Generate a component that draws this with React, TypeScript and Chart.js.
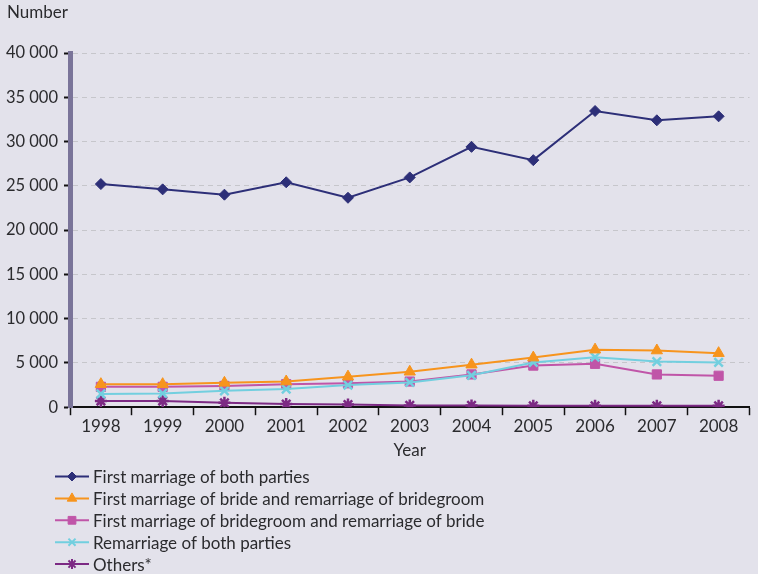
import React, { useEffect, useRef } from 'react';
import { Chart, registerables } from 'chart.js';
import { drawPoint } from 'chart.js/helpers';

Chart.register(...registerables);

const years = ['1998', '1999', '2000', '2001', '2002', '2003', '2004', '2005', '2006', '2007', '2008'];
const firstBoth = [25200, 24600, 24000, 25400, 23650, 25950, 29400, 27900, 33450, 32400, 32850];
const firstBrideRemGroom = [2600, 2600, 2750, 2900, 3450, 4000, 4800, 5600, 6500, 6400, 6100];
const firstGroomRemBride = [2300, 2300, 2400, 2600, 2700, 2900, 3700, 4700, 4900, 3700, 3550];
const remBoth = [1500, 1550, 1850, 2050, 2500, 2800, 3600, 5050, 5650, 5150, 5050];
const others = [700, 700, 500, 350, 300, 200, 200, 150, 150, 150, 150];

const seriesLabels = [
  'First marriage of both parties',
  'First marriage of bride and remarriage of bridegroom',
  'First marriage of bridegroom and remarriage of bride',
  'Remarriage of both parties',
  'Others*',
];
const yAxisTitle = 'Number';
const xAxisTitle = 'Year';
const yMax = 40000;
const yStep = 5000;

const BG = '#e3e2eb';
const TEXT = '#2b2b2e';
const FONT = 'Lato';
const colors = ['#2d2f78', '#f7941d', '#c055a8', '#72cfdf', '#7c2a84'];
const markers = ['rectRot', 'triangle', 'rect', 'crossRot', 'star'];
const radii = [5.5, 6.5, 6.5, 6, 6];
const orders = [0, 1, 3, 2, 4];

const fmt = (v: number) => {
  const s = String(Math.round(v));
  return s.length > 3 ? s.slice(0, s.length - 3) + ' ' + s.slice(-3) : s;
};

const decorPlugin = {
  id: 'decor',
  beforeDraw(chart: any) {
    const ctx = chart.ctx;
    ctx.save();
    ctx.fillStyle = BG;
    ctx.fillRect(0, 0, chart.width, chart.height);
    ctx.restore();
  },
  afterDraw(chart: any) {
    const ctx = chart.ctx;
    ctx.save();
    ctx.fillStyle = TEXT;
    ctx.font = `17px ${FONT}`;
    ctx.textAlign = 'left';
    ctx.textBaseline = 'middle';
    ctx.fillText(yAxisTitle, 7, 13);

    const x0 = 55;
    const x1 = 89;
    const yStart = 476.5;
    const rowH = 21.9;
    ctx.font = `17px ${FONT}`;
    seriesLabels.forEach((label, i) => {
      const y = yStart + i * rowH;
      ctx.strokeStyle = colors[i];
      ctx.lineWidth = 2;
      ctx.beginPath();
      ctx.moveTo(x0, y);
      ctx.lineTo(x1, y);
      ctx.stroke();
      ctx.fillStyle = colors[i];
      ctx.strokeStyle = colors[i];
      ctx.lineWidth = markers[i] === 'crossRot' || markers[i] === 'star' ? 2 : 1;
      drawPoint(ctx, { pointStyle: markers[i], radius: radii[i] - 1, borderWidth: ctx.lineWidth, rotation: 0 } as any, (x0 + x1) / 2, y);
      ctx.fillStyle = TEXT;
      ctx.fillText(label, 93, y + 1);
    });
    ctx.restore();
  },
};

export default function App() {
  const ref = useRef<HTMLCanvasElement | null>(null);
  useEffect(() => {
    document.body.style.margin = '0';
    const series = [firstBoth, firstBrideRemGroom, firstGroomRemBride, remBoth, others];
    const chart = new Chart(ref.current as HTMLCanvasElement, {
      type: 'line',
      data: {
        labels: years,
        datasets: series.map((d, i) => ({
          label: seriesLabels[i],
          data: d,
          borderColor: colors[i],
          backgroundColor: colors[i],
          pointBackgroundColor: colors[i],
          pointBorderColor: colors[i],
          pointStyle: markers[i] as any,
          pointRadius: radii[i],
          pointBorderWidth: markers[i] === 'crossRot' || markers[i] === 'star' ? 2.5 : 1,
          borderWidth: 2,
          tension: 0,
          fill: false,
          order: orders[i],
        })),
      },
      options: {
        animation: false,
        responsive: false,
        maintainAspectRatio: false,
        layout: { padding: { top: 53, left: 0, right: 0, bottom: 113 } },
        plugins: {
          legend: { display: false },
          tooltip: { enabled: false },
        },
        scales: {
          x: {
            offset: true,
            grid: {
              offset: true,
              drawOnChartArea: false,
              drawTicks: true,
              tickLength: 8,
              tickColor: '#111',
              tickWidth: 1.5,
            },
            border: { display: true, color: '#111', width: 2 },
            ticks: { color: TEXT, font: { family: FONT, size: 17 }, padding: 1, maxRotation: 0 },
            title: { display: true, text: xAxisTitle, color: TEXT, font: { family: FONT, size: 17 }, padding: { top: 3, bottom: 0 } },
          },
          y: {
            min: 0,
            max: yMax,
            afterFit: (s: any) => { s.width = 70; },
            ticks: {
              stepSize: yStep,
              color: TEXT,
              font: { family: FONT, size: 16.5 },
              padding: 6,
              callback: (v: any) => fmt(Number(v)),
            },
            grid: {
              color: '#c6c6cb',
              lineWidth: 1,
              drawTicks: true,
              tickLength: 6,
              tickColor: '#111',
              tickWidth: 2,
              tickBorderDash: [],
            },
            border: { display: true, color: '#7a7499', width: 5, dash: [5, 4] as any },
          },
        },
      },
      plugins: [decorPlugin],
    } as any);
    return () => chart.destroy();
  }, []);
  return (
    <div style={{ position: 'absolute', left: 0, top: 0, width: 758, height: 574, background: BG }}>
      <canvas ref={ref} width={758} height={574} style={{ display: 'block', width: 758, height: 574 }} />
    </div>
  );
}
